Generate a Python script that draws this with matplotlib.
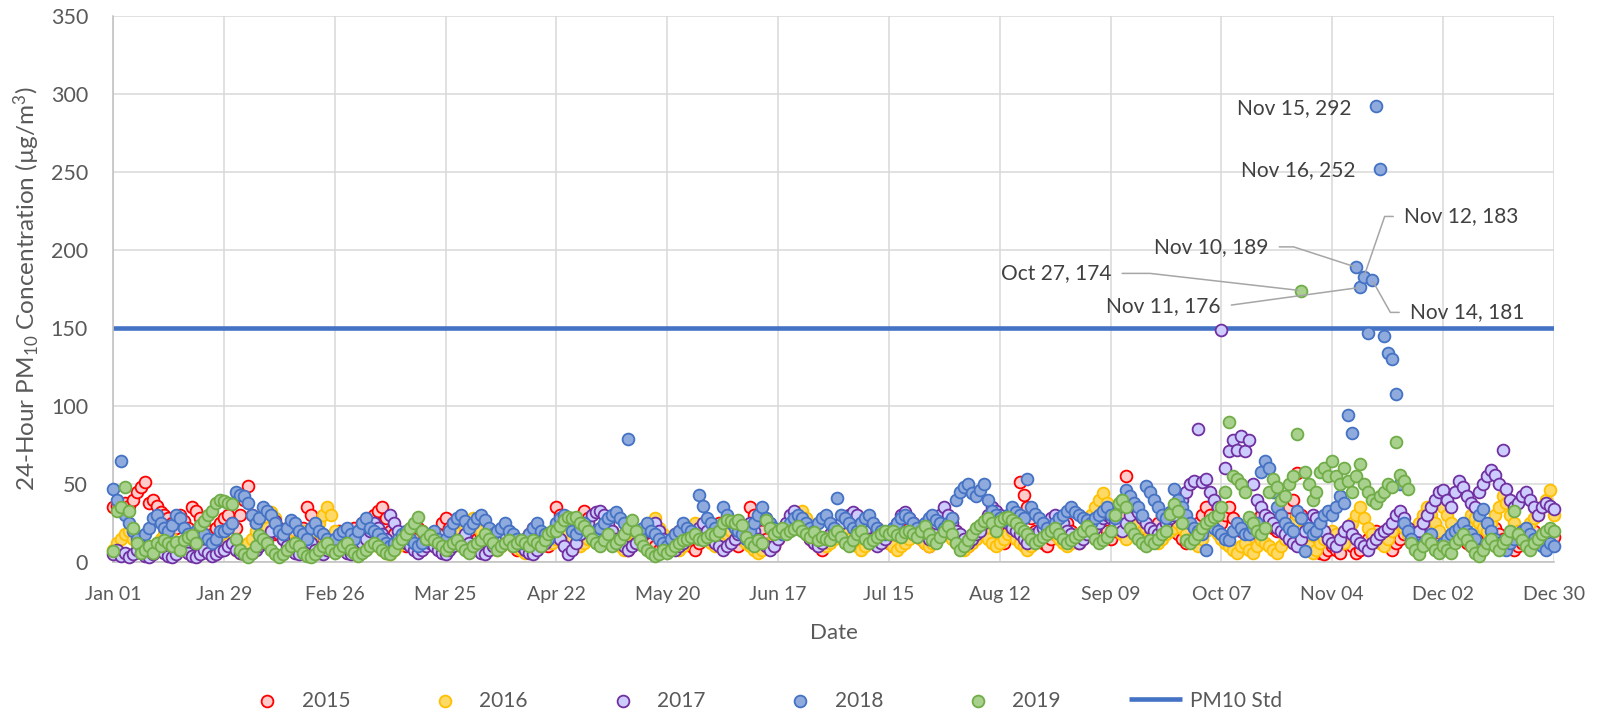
import numpy as np
import matplotlib.pyplot as plt

plt.rcParams['font.family'] = ['Lato', 'DejaVu Sans']
plt.rcParams['mathtext.fontset'] = 'custom'
plt.rcParams['mathtext.rm'] = 'Lato'

# x axis: day of year (1 = Jan 01), ticks every 4 weeks
tick_days = [1, 29, 57, 85, 113, 141, 169, 197, 225, 253, 281, 309, 337, 365]
tick_labels = ['Jan 01', 'Jan 29', 'Feb 26', 'Mar 25', 'Apr 22', 'May 20', 'Jun 17',
               'Jul 15', 'Aug 12', 'Sep 09', 'Oct 07', 'Nov 04', 'Dec 02', 'Dec 30']

years = ['2015', '2016', '2017', '2018', '2019']

# daily 24-hour PM10 (ug/m3)
pm_2015 = [
    35, 36, 33, 38, 36, 40, 45, 48, 51, 38, 40, 36, 32, 30,
    28, 25, 22, 30, 26, 22, 35, 33, 28, 24, 20, 18, 22, 25,
    28, 30, 25, 22, 30, 40, 49, 30, 25, 20, 18, 15, 20, 18,
    18, 15, 20, 25, 18, 15, 22, 35, 30, 20, 18, 15, 12, 15,
    18, 20, 15, 12, 18, 22, 20, 25, 18, 15, 30, 33, 35, 28,
    20, 18, 15, 12, 10, 15, 18, 22, 20, 15, 12, 10, 18, 25,
    28, 22, 25, 20, 18, 15, 12, 10, 15, 18, 20, 16, 14, 12,
    18, 20, 15, 10, 8, 12, 15, 18, 22, 20, 15, 12, 10, 15,
    35, 30, 25, 20, 15, 18, 22, 33, 28, 20, 15, 12, 18, 22,
    20, 15, 12, 10, 8, 12, 15, 18, 20, 15, 12, 10, 8, 10,
    12, 15, 18, 20, 15, 12, 10, 8, 12, 15, 18, 20, 22, 25,
    20, 18, 15, 12, 10, 15, 20, 35, 30, 25, 20, 15, 12, 10,
    15, 18, 20, 25, 30, 28, 25, 20, 15, 12, 10, 8, 12, 15,
    18, 20, 25, 22, 18, 15, 12, 10, 15, 18, 20, 22, 20, 15,
    12, 10, 15, 18, 20, 22, 25, 20, 15, 12, 10, 15, 18, 20,
    22, 25, 28, 20, 15, 12, 10, 15, 18, 20, 22, 25, 20, 18,
    15, 12, 20, 25, 30, 51, 43, 35, 28, 20, 15, 12, 10, 15,
    18, 20, 22, 25, 20, 15, 12, 18, 20, 22, 25, 28, 25, 20,
    15, 20, 25, 30, 55, 40, 30, 25, 20, 15, 18, 20, 25, 30,
    28, 25, 20, 18, 15, 12, 15, 20, 25, 30, 35, 30, 28, 25,
    25, 30, 35, 28, 22, 20, 18, 15, 20, 25, 30, 28, 25, 22,
    20, 25, 30, 35, 40, 57, 30, 20, 15, 10, 8, 6, 5, 8,
    10, 8, 6, 12, 15, 10, 6, 8, 12, 15, 18, 20, 15, 12,
    10, 8, 12, 15, 18, 20, 15, 12, 10, 15, 18, 20, 15, 12,
    10, 12, 15, 18, 20, 15, 12, 10, 8, 12, 15, 18, 20, 22,
    18, 15, 12, 10, 8, 10, 12, 15, 18, 20, 15, 12, 10, 15,
    16]

pm_2016 = [
    8, 12, 15, 18, 20, 15, 12, 10, 8, 6, 10, 12, 15, 18,
    20, 15, 12, 10, 8, 10, 12, 15, 12, 10, 8, 6, 10, 12,
    15, 12, 10, 8, 6, 10, 12, 15, 20, 25, 28, 22, 32, 28,
    22, 18, 15, 12, 10, 15, 20, 18, 15, 20, 25, 30, 35, 30,
    20, 15, 12, 10, 8, 6, 8, 10, 12, 15, 12, 10, 8, 6,
    5, 8, 10, 12, 15, 12, 10, 8, 10, 12, 15, 12, 10, 8,
    10, 12, 15, 18, 20, 22, 25, 28, 25, 20, 15, 12, 10, 8,
    10, 12, 15, 12, 10, 8, 6, 8, 10, 12, 15, 18, 15, 12,
    15, 18, 20, 18, 15, 12, 10, 12, 15, 18, 20, 22, 20, 18,
    15, 12, 10, 8, 10, 12, 15, 18, 20, 22, 25, 28, 22, 18,
    15, 12, 10, 8, 10, 15, 20, 25, 22, 18, 15, 12, 10, 12,
    15, 18, 20, 22, 18, 15, 12, 10, 8, 6, 8, 10, 12, 15,
    18, 20, 22, 25, 28, 30, 33, 28, 22, 18, 15, 12, 10, 12,
    15, 18, 20, 18, 15, 12, 10, 8, 10, 12, 15, 18, 20, 15,
    12, 10, 8, 10, 12, 15, 18, 20, 15, 12, 10, 12, 15, 18,
    20, 18, 15, 12, 10, 8, 10, 12, 15, 18, 20, 15, 12, 10,
    12, 15, 18, 20, 15, 12, 10, 8, 10, 12, 15, 18, 20, 22,
    18, 15, 12, 10, 12, 15, 18, 20, 25, 30, 35, 40, 44, 38,
    30, 25, 20, 18, 15, 20, 25, 30, 28, 22, 18, 15, 12, 15,
    18, 20, 22, 25, 22, 18, 15, 12, 10, 15, 20, 25, 22, 18,
    15, 12, 10, 8, 6, 10, 12, 8, 6, 10, 14, 12, 10, 8,
    6, 10, 15, 20, 25, 30, 20, 14, 10, 6, 8, 12, 15, 18,
    20, 18, 15, 12, 20, 25, 30, 35, 28, 22, 18, 15, 12, 10,
    15, 20, 25, 28, 22, 18, 15, 20, 25, 30, 35, 30, 25, 20,
    35, 30, 25, 20, 18, 22, 25, 30, 28, 25, 22, 20, 25, 30,
    35, 42, 38, 30, 25, 20, 18, 22, 25, 28, 30, 35, 40, 46,
    30]

pm_2017 = [
    5, 8, 4, 6, 3, 5, 8, 6, 4, 3, 5, 7, 9, 6,
    4, 3, 5, 8, 10, 6, 4, 3, 5, 8, 6, 4, 5, 7,
    8, 10, 12, 8, 6, 5, 4, 6, 8, 10, 12, 15, 20, 26,
    22, 15, 10, 8, 6, 5, 8, 10, 12, 8, 6, 5, 8, 10,
    12, 10, 8, 6, 5, 8, 10, 12, 15, 20, 25, 22, 18, 15,
    30, 25, 20, 15, 12, 10, 8, 6, 8, 10, 12, 10, 8, 6,
    5, 8, 10, 12, 15, 18, 12, 10, 8, 6, 5, 8, 10, 12,
    15, 18, 20, 15, 12, 10, 8, 6, 5, 8, 10, 12, 15, 18,
    20, 15, 10, 5, 8, 12, 18, 22, 25, 30, 32, 33, 30, 25,
    20, 15, 12, 10, 8, 10, 12, 15, 18, 20, 22, 25, 20, 15,
    12, 10, 8, 10, 12, 15, 18, 20, 22, 25, 20, 15, 12, 10,
    8, 10, 12, 15, 18, 20, 22, 25, 20, 15, 12, 10, 8, 10,
    15, 20, 25, 30, 33, 28, 22, 18, 15, 12, 10, 12, 15, 18,
    20, 22, 25, 28, 30, 32, 30, 25, 20, 15, 12, 10, 12, 15,
    18, 20, 25, 30, 32, 28, 25, 22, 20, 18, 15, 20, 25, 30,
    35, 30, 25, 20, 18, 15, 12, 15, 18, 20, 25, 30, 35, 33,
    30, 28, 25, 22, 20, 18, 15, 12, 15, 18, 20, 22, 25, 28,
    30, 28, 25, 20, 18, 15, 12, 15, 18, 20, 22, 25, 28, 30,
    28, 25, 22, 20, 25, 30, 35, 32, 28, 25, 22, 20, 18, 22,
    25, 28, 30, 35, 40, 45, 50, 52, 85, 51, 53, 45, 40, 35,
    149, 60, 71, 78, 72, 81, 71, 78, 50, 40, 35, 30, 28, 25,
    22, 20, 18, 15, 12, 10, 15, 20, 25, 30, 28, 25, 20, 15,
    12, 10, 15, 20, 23, 18, 15, 12, 10, 8, 12, 15, 18, 20,
    22, 25, 30, 33, 28, 22, 18, 15, 20, 25, 30, 35, 40, 45,
    46, 40, 35, 45, 52, 48, 42, 38, 35, 45, 50, 55, 59, 56,
    50, 72, 47, 40, 35, 38, 42, 45, 40, 35, 30, 35, 38, 36,
    34]

pm_2018 = [
    47, 40, 65, 30, 25, 20, 15, 10, 18, 22, 28, 30, 25, 22,
    20, 24, 30, 28, 22, 18, 15, 20, 22, 18, 15, 12, 15, 20,
    20, 22, 25, 45, 43, 42, 38, 30, 25, 28, 35, 33, 30, 25,
    20, 18, 22, 27, 25, 20, 18, 15, 22, 25, 20, 18, 15, 12,
    15, 18, 20, 22, 18, 15, 20, 25, 28, 22, 20, 18, 15, 12,
    10, 12, 15, 18, 20, 15, 12, 10, 12, 15, 18, 20, 15, 12,
    15, 20, 25, 28, 30, 26, 22, 25, 28, 30, 27, 22, 18, 20,
    22, 25, 20, 18, 15, 12, 15, 18, 22, 25, 20, 18, 15, 20,
    25, 28, 30, 25, 20, 18, 22, 25, 20, 18, 20, 22, 25, 28,
    30, 32, 28, 25, 79, 22, 20, 18, 22, 25, 20, 18, 15, 12,
    10, 15, 18, 20, 25, 22, 20, 18, 43, 36, 28, 25, 22, 20,
    35, 30, 25, 22, 20, 18, 15, 20, 25, 30, 35, 28, 25, 22,
    20, 18, 22, 25, 28, 30, 28, 25, 22, 20, 25, 28, 30, 25,
    22, 41, 30, 28, 25, 22, 20, 25, 28, 30, 25, 22, 20, 18,
    20, 22, 25, 28, 30, 28, 25, 22, 20, 25, 28, 30, 27, 25,
    22, 25, 28, 40, 45, 48, 50, 44, 42, 46, 50, 40, 33, 30,
    28, 27, 30, 35, 32, 30, 28, 53, 35, 31, 28, 25, 22, 20,
    25, 28, 30, 33, 35, 32, 30, 28, 27, 25, 28, 30, 33, 35,
    30, 28, 35, 40, 46, 42, 38, 35, 30, 49, 45, 40, 35, 30,
    28, 32, 47, 40, 35, 30, 25, 22, 20, 18, 8, 27, 22, 20,
    18, 15, 14, 20, 25, 22, 18, 18, 22, 25, 58, 65, 60, 45,
    35, 30, 25, 22, 20, 33, 28, 7, 22, 18, 20, 25, 30, 33,
    30, 35, 42, 38, 94, 83, 189, 176, 183, 147, 181, 292, 252, 145,
    134, 130, 108, 50, 25, 20, 15, 10, 8, 12, 15, 18, 10, 8,
    12, 15, 18, 20, 22, 25, 20, 18, 15, 30, 34, 25, 20, 15,
    12, 10, 8, 12, 15, 18, 20, 22, 18, 15, 12, 10, 8, 12,
    10]

pm_2019 = [
    7, 33, 35, 48, 33, 22, 12, 6, 8, 10, 6, 12, 10, 14,
    12, 10, 13, 8, 14, 16, 17, 12, 24, 26, 30, 33, 38, 40,
    39, 38, 37, 15, 8, 5, 3, 6, 10, 17, 15, 12, 8, 5,
    3, 5, 8, 10, 12, 10, 6, 4, 3, 5, 8, 10, 12, 8,
    6, 8, 10, 12, 8, 6, 4, 6, 8, 10, 12, 10, 8, 6,
    5, 8, 12, 15, 18, 22, 25, 29, 20, 15, 17, 14, 12, 10,
    8, 10, 12, 14, 10, 8, 6, 10, 12, 14, 18, 15, 12, 8,
    10, 12, 14, 10, 12, 14, 12, 10, 14, 12, 10, 14, 18, 20,
    20, 23, 27, 29, 28, 29, 25, 23, 20, 15, 12, 10, 14, 18,
    10, 12, 15, 18, 22, 27, 20, 14, 10, 8, 6, 4, 5, 8,
    6, 8, 10, 12, 14, 15, 16, 18, 15, 14, 16, 18, 17, 20,
    25, 27, 26, 25, 27, 24, 16, 12, 10, 14, 12, 27, 22, 18,
    20, 22, 18, 20, 21, 23, 20, 18, 16, 19, 14, 16, 15, 14,
    18, 20, 16, 12, 10, 14, 18, 20, 15, 12, 14, 16, 18, 20,
    18, 20, 17, 16, 19, 20, 18, 16, 20, 23, 18, 14, 12, 16,
    20, 23, 18, 12, 8, 10, 14, 18, 22, 24, 26, 28, 25, 20,
    26, 28, 29, 27, 25, 22, 20, 18, 15, 12, 14, 16, 18, 20,
    22, 18, 15, 12, 14, 16, 18, 20, 23, 20, 15, 12, 14, 16,
    20, 30, 38, 40, 35, 22, 18, 15, 12, 10, 14, 12, 15, 18,
    20, 31, 37, 33, 25, 14, 12, 15, 18, 22, 25, 27, 29, 30,
    35, 45, 90, 55, 53, 50, 45, 29, 25, 20, 18, 22, 45, 53,
    48, 40, 42, 50, 55, 82, 174, 58, 50, 40, 45, 58, 60, 55,
    65, 55, 50, 60, 52, 45, 55, 63, 50, 45, 40, 38, 42, 45,
    50, 48, 77, 56, 52, 47, 12, 8, 5, 10, 15, 12, 8, 6,
    10, 8, 6, 12, 15, 18, 14, 10, 6, 4, 8, 12, 15, 10,
    8, 12, 15, 20, 33, 18, 14, 10, 8, 12, 15, 18, 20, 22,
    20]

std_value = 150

series = [pm_2015, pm_2016, pm_2017, pm_2018, pm_2019]
face_colors = ['#FFCCCC', '#FFD966', '#CCCCFF', '#8FAADC', '#A9D18E']
edge_colors = ['#FF0000', '#FFC000', '#7030A0', '#4472C4', '#70AD47']

# labelled points: (year, date text, day of year, label x, label y, alignment, leader angle)
callouts = [
    ('2018', 'Nov 15', 320, 313.8, 291, 'right', None),
    ('2018', 'Nov 16', 321, 314.8, 251, 'right', None),
    ('2018', 'Nov 12', 317, 327.2, 221.5, 'left', 71),
    ('2018', 'Nov 10', 315, 292.8, 202, 'right', -18),
    ('2019', 'Oct 27', 301, 253.1, 185, 'right', -6.5),
    ('2018', 'Nov 11', 316, 280.7, 164, 'right', 7.8),
    ('2018', 'Nov 14', 319, 328.7, 160, 'left', 119.4),
]

fig = plt.figure(figsize=(16, 7.15), dpi=100)
ax = fig.add_axes([113 / 1600, 1 - 562 / 715, 1441 / 1600, 546 / 715])

std_line, = ax.plot([tick_days[0], tick_days[-1]], [std_value, std_value],
                    color='#4472C4', lw=3.3, solid_capstyle='butt', zorder=2)

handles = []
for yr, vals, fc, ec in zip(years, series, face_colors, edge_colors):
    days = np.arange(1, len(vals) + 1)
    h = ax.scatter(days, vals, s=72, facecolors=fc, edgecolors=ec,
                   linewidths=1.3, zorder=3, clip_on=False)
    handles.append(h)

ax.set_xlim(1, 365)
ax.set_ylim(0, 350)
ax.set_xticks(tick_days)
ax.set_xticklabels(tick_labels)
ax.set_yticks(np.arange(0, 351, 50))
ax.grid(True, color='#D9D9D9', lw=1.1)
ax.set_axisbelow(True)
for s in ['top', 'right']:
    ax.spines[s].set_visible(False)
for s in ['left', 'bottom']:
    ax.spines[s].set_color('#BFBFBF')
    ax.spines[s].set_linewidth(1.1)

ax.tick_params(axis='both', length=0, colors='#595959')
ax.tick_params(axis='x', labelsize=14, pad=17)
ax.tick_params(axis='y', labelsize=15.5, pad=18)

ax.set_xlabel('Date', fontsize=16, color='#595959', labelpad=15)
ax.set_ylabel('24-Hour PM$\\mathregular{_{10}}$ Concentration (µg/m$\\mathregular{^3}$)',
              fontsize=17.5, color='#595959', labelpad=6)

by_year = dict(zip(years, series))
for yr, date, day, tx, ty, ha, ang in callouts:
    val = by_year[yr][day - 1]
    kw = {}
    if ang is not None:
        kw['arrowprops'] = dict(arrowstyle='-', color='#A6A6A6', lw=1.1,
                                shrinkA=6, shrinkB=2,
                                relpos=(1, 0.5) if ha == 'right' else (0, 0.5),
                                connectionstyle=f'angle,angleA=0,angleB={ang},rad=0')
    ax.annotate(f'{date}, {val}', xy=(day, val), xytext=(tx, ty), textcoords='data',
                ha=ha, va='center', fontsize=15, color='#404040', zorder=5, **kw)

fig.legend(handles + [std_line], years + ['PM10 Std'], loc='center',
           bbox_to_anchor=(0.476, 0.02), ncol=6, frameon=False, fontsize=15,
           handlelength=2.5, handletextpad=0.4, columnspacing=3.3,
           labelcolor='#595959')

fig.savefig('out.png', dpi=100)
